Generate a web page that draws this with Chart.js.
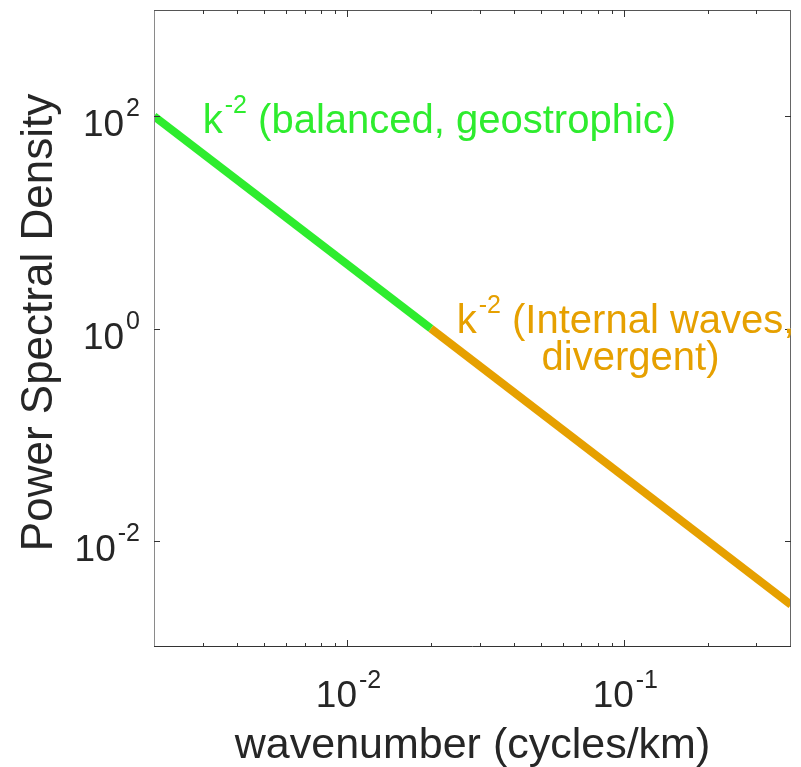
<!DOCTYPE html>
<html>
<head>
<meta charset="utf-8">
<script src="https://cdn.jsdelivr.net/npm/chart.js@4.4.1/dist/chart.umd.min.js"></script>
<style>
  html, body { margin: 0; padding: 0; background: #fff; }
  #wrap { width: 801px; height: 767px; position: relative; }
</style>
</head>
<body>
<div id="wrap"><canvas id="psd"></canvas></div>
<script>
// spectrum segments (wavenumber in cycles/km, PSD)
const kGeo = [0.002, 0.02];
const psdGeo = [100, 1];
const kIW = [0.02, 0.4];
const psdIW = [1, 0.0025];

// axis limits and ticks
const xMin = 0.002, xMax = 0.4;
const yMin = 0.001, yMax = 1000;
const xMajor = [0.01, 0.1];
const xMajorExp = ['-2', '-1'];
const xMinor = [0.003, 0.004, 0.005, 0.006, 0.007, 0.008, 0.009,
                0.02, 0.03, 0.04, 0.05, 0.06, 0.07, 0.08, 0.09, 0.2, 0.3];
const yMajor = [100, 1, 0.01];
const yMajorExp = ['2', '0', '-2'];

const GREEN = 'rgb(46,236,46)';
const ORANGE = 'rgb(230,160,0)';
const FONT = '"Liberation Sans", Arial, Helvetica, sans-serif';

function pts(xs, ys) {
    return xs.map((x, i) => ({ x, y: ys[i] }));
}

// base text with a raised exponent, returns x after the exponent
function drawSup(ctx, base, exp, x, y, align, size, expSize, rise, color) {
    ctx.save();
    ctx.fillStyle = color;
    ctx.textBaseline = 'alphabetic';
    ctx.textAlign = 'left';
    ctx.font = size + 'px ' + FONT;
    const wb = ctx.measureText(base).width;
    ctx.font = expSize + 'px ' + FONT;
    const we = ctx.measureText(exp).width;
    let x0 = x;
    if (align === 'center') x0 = x - (wb + we) / 2;
    if (align === 'right') x0 = x - (wb + we);
    ctx.font = size + 'px ' + FONT;
    ctx.fillText(base, x0, y);
    ctx.font = expSize + 'px ' + FONT;
    ctx.fillText(exp, x0 + wb + 2, y - rise);
    ctx.restore();
    return x0 + wb + we + 2;
}

const axesPlugin = {
    id: 'matlabAxes',
    afterDatasetsDraw(chart) {
        const { ctx, chartArea: a, scales: { x, y } } = chart;
        ctx.save();

        // box
        ctx.lineWidth = 1;
        const edge = (c, x1, y1, x2, y2) => {
            ctx.strokeStyle = c;
            ctx.beginPath(); ctx.moveTo(x1, y1); ctx.lineTo(x2, y2); ctx.stroke();
        };
        edge('#8a8a8a', a.left + 0.5, a.top, a.left + 0.5, a.bottom);
        edge('#555', a.left, a.top + 0.5, a.right, a.top + 0.5);
        edge('#666', a.right - 0.5, a.top, a.right - 0.5, a.bottom);
        edge('#333', a.left, a.bottom - 0.5, a.right, a.bottom - 0.5);

        // inward ticks
        ctx.strokeStyle = '#333';
        const xTick = (v, len) => {
            const px = Math.round(x.getPixelForValue(v)) + 0.5;
            ctx.beginPath();
            ctx.moveTo(px, a.bottom); ctx.lineTo(px, a.bottom - len);
            ctx.moveTo(px, a.top); ctx.lineTo(px, a.top + len);
            ctx.stroke();
        };
        xMinor.forEach(v => xTick(v, 4));
        xMajor.forEach(v => xTick(v, 7));
        yMajor.forEach(v => {
            const py = Math.round(y.getPixelForValue(v)) + 0.5;
            ctx.beginPath();
            ctx.moveTo(a.left, py); ctx.lineTo(a.left + 6, py);
            ctx.moveTo(a.right, py); ctx.lineTo(a.right - 6, py);
            ctx.stroke();
        });

        // tick labels
        xMajor.forEach((v, i) => {
            drawSup(ctx, '10', xMajorExp[i], x.getPixelForValue(v), a.bottom + 60,
                    'center', 37, 25, 19, '#262626');
        });
        yMajor.forEach((v, i) => {
            drawSup(ctx, '10', yMajorExp[i], a.left - 16, y.getPixelForValue(v) + 20,
                    'right', 37, 25, 20, '#262626');
        });

        // axis titles
        ctx.fillStyle = '#262626';
        ctx.font = '43px ' + FONT;
        ctx.textAlign = 'center';
        ctx.textBaseline = 'alphabetic';
        ctx.fillText('wavenumber (cycles/km)', (a.left + a.right) / 2, 758);
        ctx.save();
        ctx.font = '44px ' + FONT;
        ctx.translate(52, (a.top + a.bottom) / 2 - 6);
        ctx.rotate(-Math.PI / 2);
        ctx.fillText('Power Spectral Density', 0, 0);
        ctx.restore();

        // annotations
        const gx = x.getPixelForValue(0.003);
        const gy = y.getPixelForValue(70);
        let nx = drawSup(ctx, 'k', '-2', gx, gy, 'left', 40, 25, 20, GREEN);
        ctx.fillStyle = GREEN;
        ctx.font = '40px ' + FONT;
        ctx.textAlign = 'left';
        ctx.fillText(' (balanced, geostrophic)', nx, gy);

        const ox = x.getPixelForValue(0.101);
        const oy = y.getPixelForValue(0.9);
        const line1 = ' (Internal waves,';
        ctx.font = '40px ' + FONT;
        const w1 = ctx.measureText('k').width + ctx.measureText(line1).width;
        ctx.font = '25px ' + FONT;
        const wsup = ctx.measureText('-2').width + 2;
        const start = ox - (w1 + wsup) / 2;
        nx = drawSup(ctx, 'k', '-2', start, oy, 'left', 40, 25, 20, ORANGE);
        ctx.fillStyle = ORANGE;
        ctx.font = '40px ' + FONT;
        ctx.textAlign = 'left';
        ctx.fillText(line1, nx, oy);
        ctx.textAlign = 'center';
        ctx.fillText('divergent)', ox + 5, oy + 37);

        ctx.restore();
    }
};

new Chart(document.getElementById('psd'), {
    type: 'line',
    data: {
        datasets: [
            { label: 'balanced', data: pts(kGeo, psdGeo), borderColor: GREEN,
              borderWidth: 8, pointRadius: 0, borderCapStyle: 'butt', clip: 0 },
            { label: 'internal waves', data: pts(kIW, psdIW), borderColor: ORANGE,
              borderWidth: 8, pointRadius: 0, borderCapStyle: 'butt', clip: 0 }
        ]
    },
    options: {
        responsive: true,
        maintainAspectRatio: false,
        animation: false,
        layout: { padding: { left: 154, right: 10, top: 10, bottom: 120 } },
        plugins: { legend: { display: false }, tooltip: { enabled: false } },
        scales: {
            x: { type: 'logarithmic', min: xMin, max: xMax, display: false },
            y: { type: 'logarithmic', min: yMin, max: yMax, display: false }
        }
    },
    plugins: [axesPlugin]
});
</script>
</body>
</html>
